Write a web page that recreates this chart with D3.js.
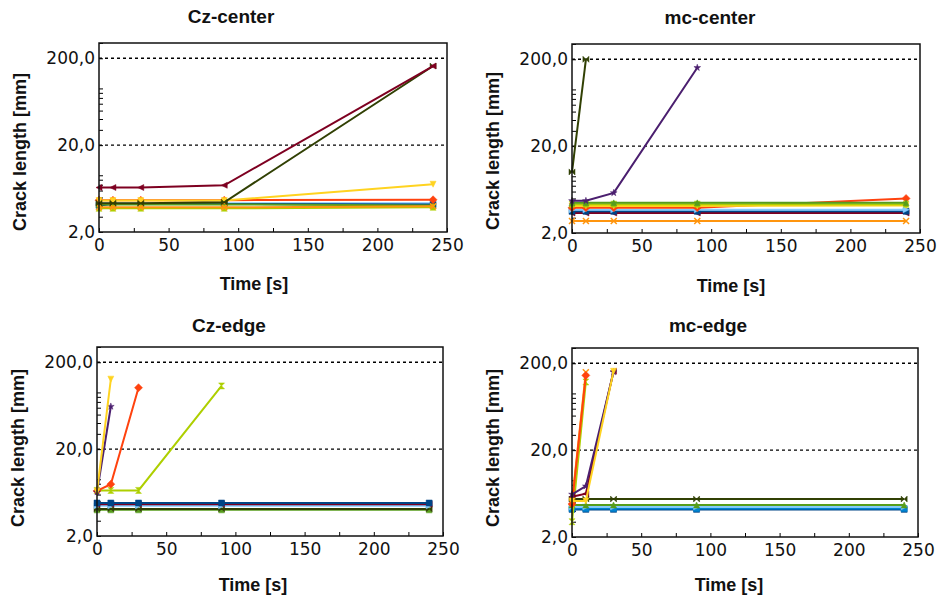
<!DOCTYPE html>
<html>
<head>
<meta charset="utf-8">
<script src="https://cdn.jsdelivr.net/npm/d3@7"></script>
<style>
    body { margin: 0; background: #fff; }
    .tick text { font-family: "DejaVu Sans", sans-serif; font-size: 17px; fill: #111; }
    .tick line { stroke: #000; }
    .title { font-family: "Liberation Sans", Arial, sans-serif; font-weight: bold; font-size: 19px; fill: #111; }
    .axis-title { font-family: "Liberation Sans", Arial, sans-serif; font-weight: bold; font-size: 18px; fill: #111; }
</style>
</head>
<body>
<svg id="chart" width="940" height="603"></svg>
<script>

    // measurement times [s]
    var times = [0, 10, 30, 90, 240];

    // LibreOffice default chart colours, one per specimen id
    var palette = ["#004586", "#ff420e", "#ffd320", "#579d1c", "#7e0021", "#83caff",
                   "#314004", "#aecf00", "#4b1f6f", "#ff950e", "#c5000b", "#0084d1"];

    var xTickValues = [0, 50, 100, 150, 200, 250];
    var yLabelValues = [2, 20, 200];
    var yTickValues = [2, 3, 4, 5, 6, 7, 8, 9, 20, 30, 40, 50, 60, 70, 80, 90, 200, 300];

    // crack length [mm] per specimen, null once the wafer broke
    var czCenter = [
        { id: 5, values: [4.3, 4.3, 4.3, 4.3, 4.3] },
        { id: 0, values: [4.05, 4.2, 4.2, 4.2, 4.15] },
        { id: 3, values: [4.15, 4.15, 4.15, 4.15, 4.05] },
        { id: 7, values: [3.75, 3.75, 3.75, 3.75, 3.85] },
        { id: 9, values: [3.85, 3.85, 3.85, 3.85, 3.95] },
        { id: 1, values: [4.65, 4.65, 4.65, 4.65, 4.7] },
        { id: 2, values: [4.6, 4.6, 4.6, 4.6, 7.1] },
        { id: 6, values: [4.3, 4.3, 4.3, 4.4, 163] },
        { id: 4, values: [6.5, 6.5, 6.5, 6.9, 163] }
    ];

    var mcCenter = [
        { id: 9, values: [2.75, 2.75, 2.75, 2.75, 2.75] },
        { id: 4, values: [3.4, 3.4, 3.4, 3.4, 3.4] },
        { id: 0, values: [3.55, 3.55, 3.55, 3.55, 3.55] },
        { id: 5, values: [3.7, 3.7, 3.7, 3.7, 3.7] },
        { id: 1, values: [3.9, 3.9, 3.9, 3.9, 5.0] },
        { id: 2, values: [4.1, 4.1, 4.1, 4.1, 4.15] },
        { id: 7, values: [4.3, 4.3, 4.3, 4.3, 4.3] },
        { id: 3, values: [4.45, 4.45, 4.45, 4.45, 4.45] },
        { id: 8, values: [4.7, 4.7, 5.8, 160, null] },
        { id: 6, values: [10.1, 200, null, null, null] }
    ];

    var czEdge = [
        { id: 3, values: [4.0, 4.0, 4.0, 4.0, 4.0] },
        { id: 6, values: [4.1, 4.1, 4.1, 4.1, 4.1] },
        { id: 5, values: [4.45, 4.45, 4.45, 4.45, 4.45] },
        { id: 4, values: [4.65, 4.65, 4.65, 4.65, 4.65] },
        { id: 0, values: [4.8, 4.8, 4.8, 4.8, 4.8] },
        { id: 7, values: [6.7, 6.7, 6.7, 107, null] },
        { id: 1, values: [6.6, 7.9, 102, null, null] },
        { id: 8, values: [6.4, 62, null, null, null] },
        { id: 2, values: [6.5, 128, null, null, null] }
    ];

    var mcEdge = [
        { id: 0, values: [4.16, 4.16, 4.16, 4.16, 4.16] },
        { id: 11, values: [4.25, 4.25, 4.25, 4.25, 4.25] },
        { id: 5, values: [4.45, 4.45, 4.45, 4.45, 4.45] },
        { id: 3, values: [4.67, 4.67, 4.67, 4.67, 4.67] },
        { id: 6, values: [5.47, 5.47, 5.47, 5.47, 5.47] },
        { id: 7, values: [3.0, 122, null, null, null] },
        { id: 9, values: [5.0, 158, null, null, null] },
        { id: 1, values: [4.8, 145, null, null, null] },
        { id: 4, values: [5.8, 6.3, 162, null, null] },
        { id: 8, values: [6.2, 7.7, 159, null, null] },
        { id: 2, values: [5.2, 5.2, 162, null, null] }
    ];

    var panels = [
        { title: "Cz-center", data: czCenter, left: 99, top: 43, width: 348, height: 189,
          titleX: 231, titleY: 23, xTitleX: 254, xTitleY: 290, yTitleX: 26, yTitleY: 152 },
        { title: "mc-center", data: mcCenter, left: 572, top: 44, width: 348, height: 189,
          titleX: 710, titleY: 24, xTitleX: 731, xTitleY: 292, yTitleX: 499, yTitleY: 151 },
        { title: "Cz-edge", data: czEdge, left: 97, top: 347, width: 346, height: 189,
          titleX: 229, titleY: 332, xTitleX: 253, xTitleY: 591, yTitleX: 24, yTitleY: 448 },
        { title: "mc-edge", data: mcEdge, left: 572, top: 348, width: 346, height: 189,
          titleX: 708, titleY: 332, xTitleX: 729, xTitleY: 591, yTitleX: 499, yTitleY: 448 }
    ];

    // marker shapes, cycled by specimen id
    var markerPath = function (id) {
        var s = 3, d = 4;
        var shapes = [
            "M-3,-3h6v6h-6Z",
            "M0,-" + d + "L" + d + ",0L0," + d + "L-" + d + ",0Z",
            "M-3,-3L3,-3L0,3Z",
            "M-3,3L3,3L0,-3Z",
            "M3,-3L3,3L-3,0Z",
            "M-3,-3L-3,3L3,0Z",
            "M-3,-3L3,3L3,-3L-3,3Z",
            "M-3,-3L3,-3L-3,3L3,3Z",
            d3.symbol(d3.symbolStar, 14)(),
            "M-3,-3L3,3M3,-3L-3,3",
            d3.symbol(d3.symbolCircle, 24)(),
            "M-3,-3h6v6h-6Z"
        ];
        return shapes[id % shapes.length];
    };

    var svg = d3.select("#chart");

    var formatLabel = function (v) {
        return d3.format(".1f")(v).replace(".", ",");
    };

    var drawPanel = function (cfg) {
        var xScale = d3.scaleLinear().domain([0, 250]).range([cfg.left, cfg.left + cfg.width]);
        var yScale = d3.scaleLog().domain([2, 300]).range([cfg.top + cfg.height, cfg.top]);

        var g = svg.append("g").classed("panel", true);

        // dashed grid on decades
        g.selectAll(".grid")
            .data([20, 200])
            .enter().append("line")
            .attr("x1", cfg.left)
            .attr("x2", cfg.left + cfg.width)
            .attr("y1", function (d) { return yScale(d); })
            .attr("y2", function (d) { return yScale(d); })
            .attr("stroke", "#000")
            .attr("stroke-width", 1.4)
            .attr("stroke-dasharray", "3,3");

        // x axis, minor ticks every 25
        var xAxis = d3.axisBottom(xScale)
            .tickValues(d3.range(0, 251, 25))
            .tickSize(-4)
            .tickPadding(7)
            .tickFormat(function (d) {
                return xTickValues.indexOf(d) >= 0 ? d : "";
            });
        g.append("g")
            .attr("transform", "translate(0," + (cfg.top + cfg.height) + ")")
            .call(xAxis)
            .call(function (a) { a.select(".domain").remove(); });

        // y axis, log minor ticks
        var yAxis = d3.axisLeft(yScale)
            .tickValues(yTickValues)
            .tickSize(-4)
            .tickPadding(4)
            .tickFormat(function (d) {
                return yLabelValues.indexOf(d) >= 0 ? formatLabel(d) : "";
            });
        g.append("g")
            .attr("transform", "translate(" + cfg.left + ",0)")
            .call(yAxis)
            .call(function (a) { a.select(".domain").remove(); });

        // series
        var line = d3.line()
            .defined(function (d) { return d.v !== null; })
            .x(function (d) { return xScale(d.t); })
            .y(function (d) { return yScale(d.v); });

        var series = g.selectAll(".series")
            .data(cfg.data)
            .enter().append("g")
            .classed("series", true);

        series.append("path")
            .attr("fill", "none")
            .attr("stroke", function (d) { return palette[d.id]; })
            .attr("stroke-width", 2)
            .attr("d", function (d) {
                return line(d.values.map(function (v, i) { return { t: times[i], v: v }; }));
            });

        series.selectAll(".marker")
            .data(function (d) {
                return d.values
                    .map(function (v, i) { return { t: times[i], v: v, id: d.id }; })
                    .filter(function (p) { return p.v !== null; });
            })
            .enter().append("path")
            .classed("marker", true)
            .attr("transform", function (p) {
                return "translate(" + xScale(p.t) + "," + yScale(p.v) + ")";
            })
            .attr("d", function (p) { return markerPath(p.id); })
            .attr("fill", function (p) { return palette[p.id]; })
            .attr("stroke", function (p) { return palette[p.id]; })
            .attr("stroke-width", function (p) { return p.id === 9 ? 1.5 : 0.5; });

        // frame
        g.append("rect")
            .attr("x", cfg.left)
            .attr("y", cfg.top)
            .attr("width", cfg.width)
            .attr("height", cfg.height)
            .attr("fill", "none")
            .attr("stroke", "#111")
            .attr("stroke-width", 1.5);

        g.append("text")
            .classed("title", true)
            .attr("x", cfg.titleX)
            .attr("y", cfg.titleY)
            .attr("text-anchor", "middle")
            .text(cfg.title);

        g.append("text")
            .classed("axis-title", true)
            .attr("x", cfg.xTitleX)
            .attr("y", cfg.xTitleY)
            .attr("text-anchor", "middle")
            .text("Time [s]");

        g.append("text")
            .classed("axis-title", true)
            .attr("transform", "translate(" + cfg.yTitleX + "," + cfg.yTitleY + ") rotate(-90)")
            .attr("text-anchor", "middle")
            .text("Crack length [mm]");
    };

    panels.forEach(drawPanel);

</script>
</body>
</html>
